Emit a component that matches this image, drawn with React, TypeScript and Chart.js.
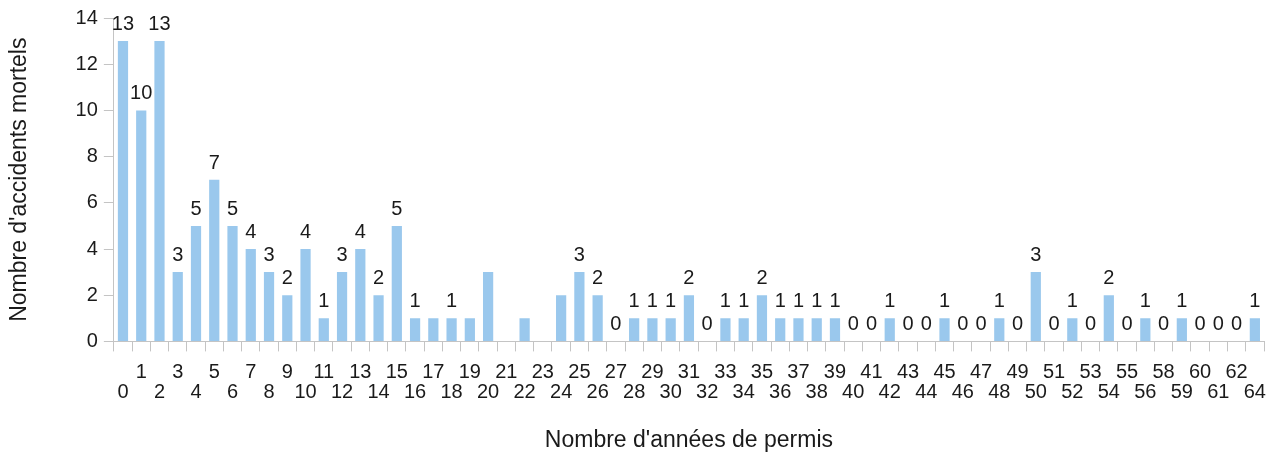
import React, { useEffect, useRef } from "react";
import { Chart, registerables } from "chart.js";

Chart.register(...registerables);

const categories: string[] = [
  "0","1","2","3","4","5","6","7","8","9","10","11","12","13","14","15","16","17","18","19",
  "20","21","22","23","24","25","26","27","28","29","30","31","32","33","34","35","36","37","38","39",
  "40","41","42","43","44","45","46","47","48","49","50","51","52","53","54","55","56",
  "58","59","60","61","62","64",
];

const accidents: (number | null)[] = [
  13,10,13,3,5,7,5,4,3,2,4,1,3,4,2,5,1,1,1,1,
  3,null,1,null,2,3,2,0,1,1,1,2,0,1,1,2,1,1,1,1,
  0,0,1,0,0,1,0,0,1,0,3,0,1,0,2,0,1,
  0,1,0,0,0,1,
];

// which bars carry a value label in the reference
const labelShown: boolean[] = [
  true,true,true,true,true,true,true,true,true,true,true,true,true,true,true,true,true,false,true,false,
  false,false,false,false,false,true,true,true,true,true,true,true,true,true,true,true,true,true,true,true,
  true,true,true,true,true,true,true,true,true,true,true,true,true,true,true,true,true,
  true,true,true,true,true,true,
];

const yTicks: number[] = [0, 2, 4, 6, 8, 10, 12, 14];

const xTitle = "Nombre d'années de permis";
const yTitle = "Nombre d'accidents mortels";

const FONT = "'Liberation Sans', Arial, sans-serif";

const valueLabels = {
  id: "valueLabels",
  afterDatasetsDraw(chart: any) {
    const ctx = chart.ctx;
    const meta = chart.getDatasetMeta(0);
    ctx.save();
    ctx.font = `20px ${FONT}`;
    ctx.fillStyle = "#1a1a1a";
    ctx.textAlign = "center";
    ctx.textBaseline = "alphabetic";
    meta.data.forEach((bar: any, i: number) => {
      const v = accidents[i];
      if (v === null || v === undefined || !labelShown[i]) return;
      ctx.fillText(String(v), bar.x, bar.y - 11);
    });
    ctx.restore();
  },
};

export default function App() {
  const ref = useRef<HTMLCanvasElement | null>(null);

  useEffect(() => {
    document.body.style.margin = "0";
    const canvas = ref.current;
    if (!canvas) return;
    const chart = new Chart(canvas, {
      type: "bar",
      data: {
        labels: categories,
        datasets: [
          {
            data: accidents,
            backgroundColor: "#9ac8ed",
            borderWidth: 0,
            categoryPercentage: 1,
            barPercentage: 0.56,
          },
        ],
      },
      options: {
        animation: false,
        responsive: true,
        maintainAspectRatio: false,
        layout: { padding: { left: 6, right: 4, top: 14, bottom: 0 } },
        plugins: {
          legend: { display: false },
          tooltip: { enabled: false },
        },
        scales: {
          x: {
            afterFit: (scale: any) => {
              scale.paddingRight = 0;
            },
            grid: {
              offset: true,
              drawOnChartArea: false,
              drawTicks: true,
              tickLength: 10,
              color: "#c4c4c4",
            },
            border: { color: "#c4c4c4" },
            ticks: {
              autoSkip: false,
              maxRotation: 0,
              minRotation: 0,
              padding: 11,
              color: "#1a1a1a",
              font: { family: FONT, size: 20, lineHeight: 1.0 },
              callback: (_v: any, i: number) =>
                i % 2 === 1 ? [categories[i], ""] : ["", categories[i]],
            },
            title: {
              display: true,
              text: xTitle,
              color: "#1a1a1a",
              font: { family: FONT, size: 23 },
              padding: { top: 13, bottom: 0 },
            },
          },
          y: {
            min: 0,
            max: 14,
            afterBuildTicks: (axis: any) => {
              axis.ticks = yTicks.map((v) => ({ value: v }));
            },
            grid: {
              drawOnChartArea: false,
              drawTicks: true,
              tickLength: 10,
              color: "#c4c4c4",
            },
            border: { color: "#c4c4c4" },
            ticks: {
              padding: 6,
              color: "#1a1a1a",
              font: { family: FONT, size: 20 },
            },
            title: {
              display: true,
              text: yTitle,
              color: "#1a1a1a",
              font: { family: FONT, size: 23 },
              padding: { top: 0, bottom: 36 },
            },
          },
        },
      },
      plugins: [valueLabels],
    });
    return () => chart.destroy();
  }, []);

  return (
    <div style={{ width: 1268, height: 454, position: "relative" }}>
      <canvas ref={ref} />
    </div>
  );
}
